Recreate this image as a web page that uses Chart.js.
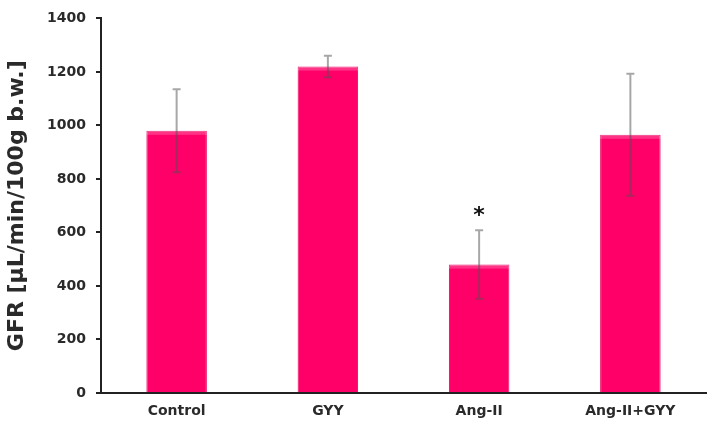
<!DOCTYPE html>
<html>
<head>
<meta charset="utf-8">
<script src="https://cdn.jsdelivr.net/npm/chart.js@4"></script>
<style>
  html, body { margin: 0; padding: 0; background: #fff; }
  #wrap { width: 712px; height: 433px; }
</style>
</head>
<body>
<div id="wrap"><canvas id="gfr-chart"></canvas></div>
<script>
// groups on the x axis
const categories = ['Control', 'GYY', 'Ang-II', 'Ang-II+GYY'];
// GFR mean and error (µL/min/100g b.w.)
const gfrMean = [980, 1220, 480, 965];
const gfrErr = [155, 40, 128, 228];
// significance marks above the error bars
const marks = ['', '', '*', ''];

const FONT = '"DejaVu Sans", Verdana, sans-serif';

// error bars + asterisk + a light top band on the bars
const errorBars = {
    id: 'errorBars',
    afterDatasetsDraw(chart) {
        const ctx = chart.ctx;
        const y = chart.scales.y;
        const meta = chart.getDatasetMeta(0);
        ctx.save();
        meta.data.forEach((bar, i) => {
            // soft highlight at the bar top
            const half = bar.width / 2;
            ctx.fillStyle = 'rgba(255,255,255,0.2)';
            ctx.fillRect(bar.x - half, bar.y, bar.width, 4);

            const top = y.getPixelForValue(gfrMean[i] + gfrErr[i]);
            const bot = y.getPixelForValue(gfrMean[i] - gfrErr[i]);
            ctx.strokeStyle = 'rgba(80,80,80,0.5)';
            ctx.lineWidth = 2;
            ctx.beginPath();
            ctx.moveTo(bar.x, top);
            ctx.lineTo(bar.x, bot);
            ctx.moveTo(bar.x - 4, top);
            ctx.lineTo(bar.x + 4, top);
            ctx.moveTo(bar.x - 4, bot);
            ctx.lineTo(bar.x + 4, bot);
            ctx.stroke();

            if (marks[i]) {
                ctx.fillStyle = '#111';
                ctx.font = 'bold 22px ' + FONT;
                ctx.textAlign = 'center';
                ctx.textBaseline = 'middle';
                ctx.fillText(marks[i], bar.x, top - 14);
            }
        });
        ctx.restore();
    }
};

new Chart(document.getElementById('gfr-chart'), {
    type: 'bar',
    data: {
        labels: categories,
        datasets: [{
            data: gfrMean,
            backgroundColor: '#FF0068',
            borderColor: '#E8005E',
            borderWidth: 1,
            categoryPercentage: 1,
            barPercentage: 0.4
        }]
    },
    options: {
        responsive: true,
        maintainAspectRatio: false,
        animation: false,
        layout: { padding: { top: 6, right: 6, left: 4, bottom: 0 } },
        plugins: {
            legend: { display: false },
            tooltip: { enabled: false }
        },
        scales: {
            x: {
                grid: { display: false, drawTicks: false },
                border: { color: '#222', width: 2 },
                ticks: {
                    color: '#2a2a2a',
                    padding: 10,
                    font: { family: FONT, size: 14, weight: 'bold' }
                },
                afterFit: s => { s.height = 40; }
            },
            y: {
                min: 0,
                max: 1400,
                ticks: {
                    stepSize: 200,
                    color: '#2a2a2a',
                    padding: 10,
                    callback: v => String(v),
                    font: { family: FONT, size: 14, weight: 'bold' }
                },
                grid: {
                    display: true,
                    drawOnChartArea: false,
                    drawTicks: true,
                    tickLength: 5,
                    color: '#222',
                    lineWidth: 2
                },
                border: { color: '#222', width: 2 },
                title: {
                    display: true,
                    text: 'GFR [µL/min/100g b.w.]',
                    color: '#2a2a2a',
                    padding: { top: 0, bottom: 4 },
                    font: { family: FONT, size: 22, weight: 'bold' }
                },
                afterFit: s => { s.width = 97; }
            }
        }
    },
    plugins: [errorBars]
});
</script>
</body>
</html>
